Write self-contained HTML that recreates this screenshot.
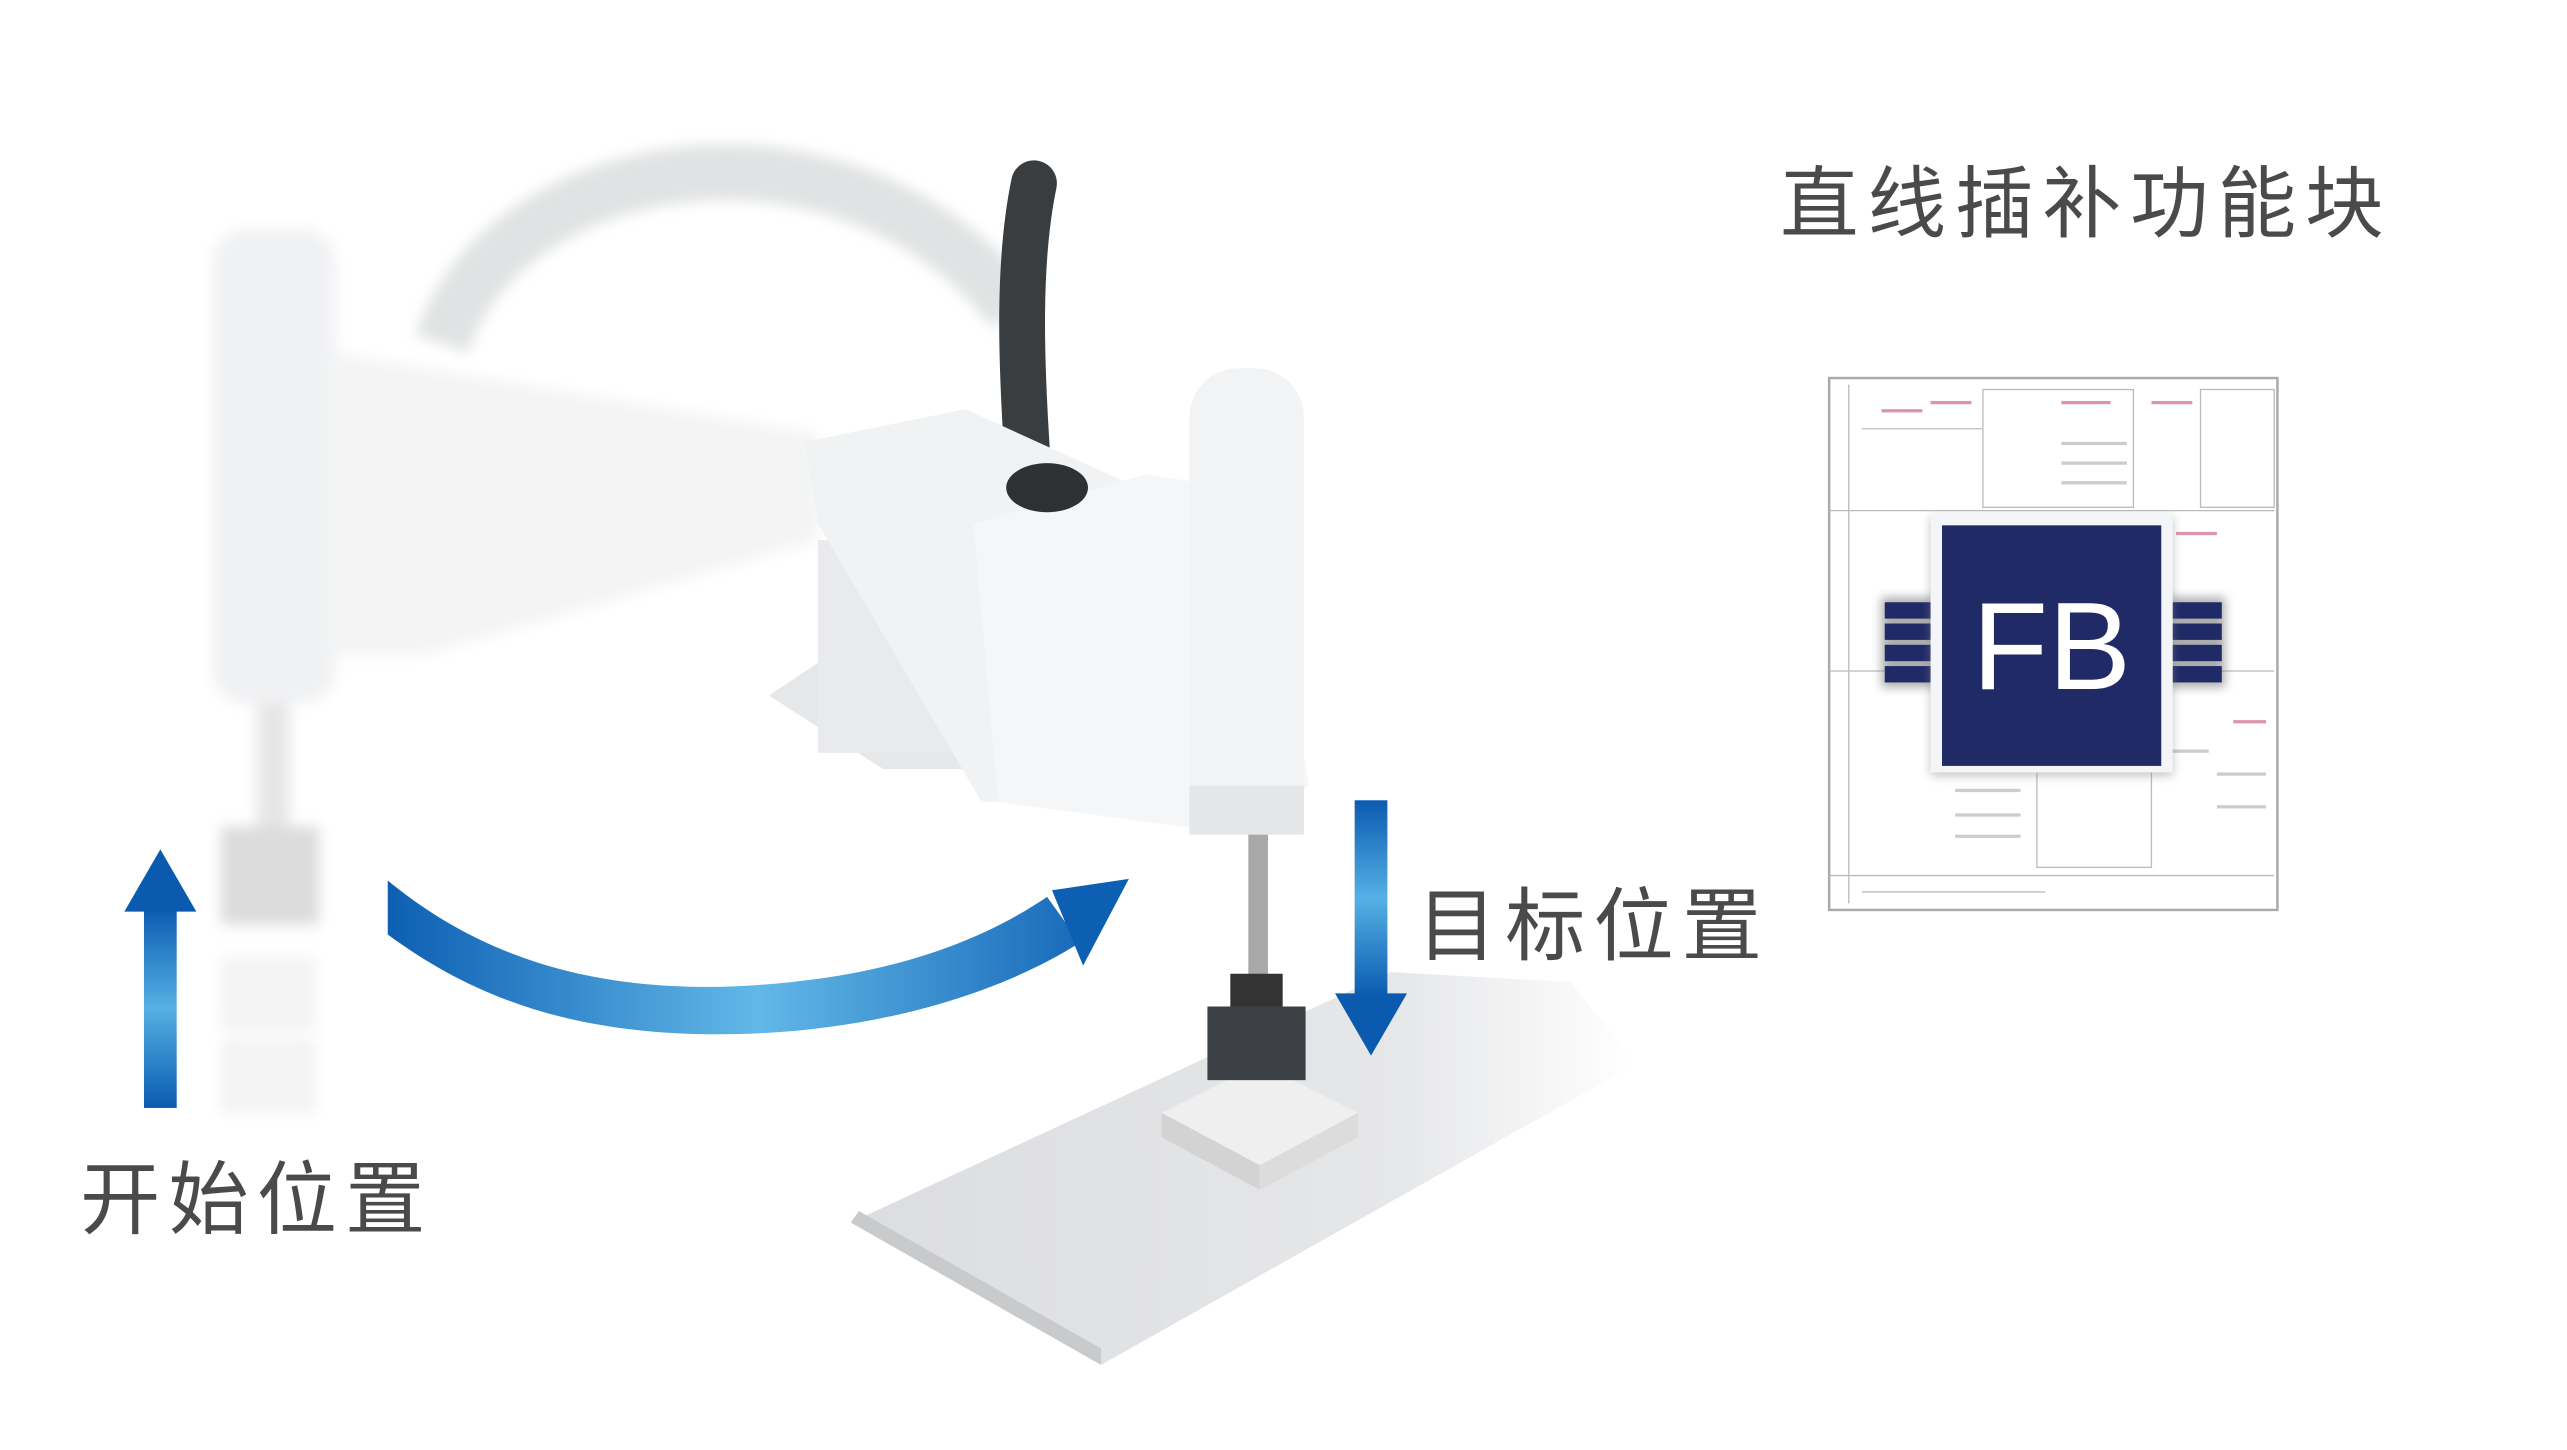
<!DOCTYPE html>
<html><head><meta charset="utf-8"><style>
html,body{margin:0;padding:0;background:#fff;}
svg{display:block;}
text{font-family:"Liberation Sans","Noto Sans CJK SC",sans-serif;}
</style></head><body>
<svg width="2567" height="1450" viewBox="0 0 1569 886" preserveAspectRatio="none" xmlns="http://www.w3.org/2000/svg">
<defs>
<linearGradient id="gc" x1="237" y1="0" x2="690" y2="0" gradientUnits="userSpaceOnUse">
<stop offset="0" stop-color="#0d5fb2"/><stop offset="0.5" stop-color="#62b8e8"/><stop offset="1" stop-color="#0d5fb2"/></linearGradient>
<linearGradient id="gv" x1="0" y1="0" x2="0" y2="1">
<stop offset="0" stop-color="#0a5bb0"/><stop offset="0.5" stop-color="#56b0e4"/><stop offset="1" stop-color="#0a5bb0"/></linearGradient>
<linearGradient id="gp" x1="520" y1="0" x2="1000" y2="0" gradientUnits="userSpaceOnUse">
<stop offset="0" stop-color="#dcdde0"/><stop offset="0.7" stop-color="#e6e7e9"/><stop offset="1" stop-color="#ffffff"/></linearGradient>
<filter id="blur"><feGaussianBlur stdDeviation="4"/></filter>
<filter id="sh"><feGaussianBlur stdDeviation="3"/></filter>
</defs>
<rect width="1569" height="886" fill="#fff"/>
<!-- ghost robot -->
<g filter="url(#blur)" opacity="0.85">
<path d="M270 210 C310 90 520 60 620 190" stroke="#dcdedf" stroke-width="34" fill="none"/>
<rect x="130" y="140" width="75" height="290" rx="20" fill="#eeeff1"/>
<polygon points="200,215 500,265 500,330 260,400 200,400" fill="#f1f2f3"/>
<rect x="157" y="430" width="20" height="80" fill="#e2e2e2"/>
<rect x="135" y="505" width="60" height="60" fill="#d6d6d6"/>
<rect x="135" y="585" width="58" height="45" fill="#f1f1f1"/>
<rect x="135" y="635" width="58" height="45" fill="#f1f1f1"/>
</g>
<!-- platform -->
<polygon points="520,747 673,834 1000,650 960,600 850,594" fill="url(#gp)"/>
<polygon points="520,747 673,834 673,824 525,740" fill="#c9cacc"/>
<polygon points="710,680 770,712 830,680 770,650" fill="#efefef"/>
<polygon points="710,680 710,695 770,727 770,712" fill="#d3d3d3"/>
<polygon points="770,712 770,727 830,695 830,680" fill="#dcdcdc"/>
<!-- real robot -->
<path d="M632 112 C622 160 624 220 628 280" stroke="#3a3d40" stroke-width="28" fill="none" stroke-linecap="round"/>
<polygon points="470,425 500,405 600,440 590,470 540,470" fill="#e6e7e9"/>
<rect x="500" y="330" width="90" height="130" fill="#e9eaec"/>
<polygon points="492,270 590,250 700,300 690,490 600,490 500,320" fill="#f1f2f3"/>
<polygon points="595,320 700,290 770,300 800,480 760,510 610,490" fill="#f5f6f7"/>
<rect x="727" y="225" width="70" height="280" rx="30" fill="#f2f3f4"/>
<rect x="727" y="480" width="70" height="30" fill="#e5e6e8"/>
<ellipse cx="640" cy="298" rx="25" ry="15" fill="#2e3134"/>
<rect x="763" y="510" width="12" height="90" fill="#a8a8a8"/>
<rect x="752" y="595" width="32" height="25" fill="#333"/>
<rect x="738" y="615" width="60" height="45" fill="#3c4044"/>
<!-- arrows -->
<rect x="88" y="555" width="20" height="122" fill="url(#gv)"/>
<polygon points="76,557 98,519 120,557" fill="#0a5bb0"/>
<rect x="828" y="489" width="20" height="120" fill="url(#gv)"/>
<polygon points="816,607 838,645 860,607" fill="#0a5bb0"/>
<path d="M237 538 C 300 590 370 604 440 603 C 540 600 600 575 640 548 L 660 576 C 610 608 530 632 440 632 C 350 632 290 610 237 571 Z" fill="url(#gc)"/>
<polygon points="643,544 690,537 662,590" fill="#0d5fb2"/>
<!-- labels -->
<text x="49" y="750" font-size="49" fill="#4a4a4a" letter-spacing="5">开始位置</text>
<text x="866" y="583" font-size="49" fill="#4a4a4a" letter-spacing="5">目标位置</text>
<text x="1088" y="141" font-size="48" fill="#4a4a4a" letter-spacing="5.5">直线插补功能块</text>
<!-- FB sheet -->
<rect x="1118" y="231" width="274" height="325" fill="#fff" stroke="#aaa" stroke-width="1.5"/>
<g stroke="#bbb" stroke-width="0.8" fill="none">
<rect x="1212" y="238" width="92" height="72"/>
<rect x="1345" y="238" width="45" height="72"/>
<line x1="1118" y1="312" x2="1390" y2="312"/>
<line x1="1118" y1="410" x2="1390" y2="410"/>
<line x1="1118" y1="535" x2="1390" y2="535"/>
<line x1="1130" y1="235" x2="1130" y2="552"/>
<rect x="1245" y="470" width="70" height="60"/>
<line x1="1138" y1="262" x2="1212" y2="262"/>
<line x1="1138" y1="545" x2="1250" y2="545"/>
</g>
<g fill="#c04060" opacity="0.55">
<rect x="1150" y="250" width="25" height="2"/><rect x="1180" y="245" width="25" height="2"/><rect x="1260" y="245" width="30" height="2"/>
<rect x="1315" y="245" width="25" height="2"/><rect x="1330" y="325" width="25" height="2"/><rect x="1365" y="440" width="20" height="2"/>
</g>
<g fill="#ccc">
<rect x="1260" y="270" width="40" height="2"/><rect x="1260" y="282" width="40" height="2"/><rect x="1260" y="294" width="40" height="2"/>
<rect x="1195" y="482" width="40" height="2"/><rect x="1195" y="497" width="40" height="2"/><rect x="1195" y="510" width="40" height="2"/>
<rect x="1325" y="458" width="25" height="2"/><rect x="1355" y="472" width="30" height="2"/><rect x="1355" y="492" width="30" height="2"/>
</g>
<!-- pins -->
<g fill="#777" filter="url(#sh)" opacity="0.6">
<rect x="1150" y="365" width="210" height="55"/>
</g>
<g fill="#1f2a66">
<rect x="1152" y="368" width="36" height="10"/><rect x="1152" y="381" width="36" height="10"/><rect x="1152" y="394" width="36" height="10"/><rect x="1152" y="407" width="36" height="10"/>
<rect x="1320" y="368" width="38" height="10"/><rect x="1320" y="381" width="38" height="10"/><rect x="1320" y="394" width="38" height="10"/><rect x="1320" y="407" width="38" height="10"/>
</g>
<rect x="1180" y="316" width="148" height="158" fill="#888" filter="url(#sh)" opacity="0.5"/>
<rect x="1180" y="314" width="148" height="158" fill="#f4f5f8"/>
<rect x="1187" y="321" width="134" height="147" fill="#1f2a66"/>
<text x="1254" y="421" font-size="76" fill="#fff" text-anchor="middle">FB</text>
</svg>
</body></html>
